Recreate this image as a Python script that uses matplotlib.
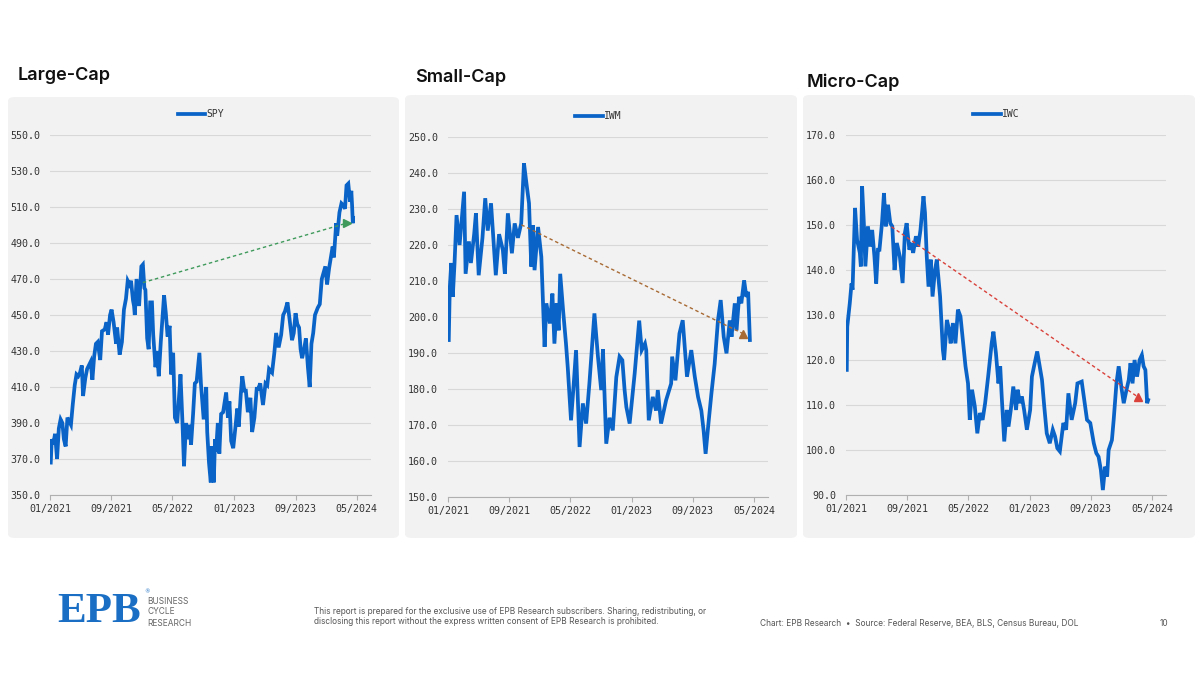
import numpy as np
import pandas as pd
import matplotlib.pyplot as plt
import matplotlib.dates as mdates
from matplotlib.patches import FancyBboxPatch

# --- data ---
titles = ['Large-Cap', 'Small-Cap', 'Micro-Cap']
tickers = ['SPY', 'IWM', 'IWC']

spy_dates = ['2021-01-04', '2021-01-08', '2021-01-14', '2021-01-21', '2021-01-29', '2021-02-05', '2021-02-12',
             '2021-02-19', '2021-02-25', '2021-03-04', '2021-03-11', '2021-03-18', '2021-03-25', '2021-04-01',
             '2021-04-09', '2021-04-16', '2021-04-23', '2021-04-30', '2021-05-07', '2021-05-12', '2021-05-21',
             '2021-05-28', '2021-06-04', '2021-06-11', '2021-06-18', '2021-06-25', '2021-07-02', '2021-07-09',
             '2021-07-19', '2021-07-26', '2021-08-06', '2021-08-13', '2021-08-19', '2021-08-27', '2021-09-02',
             '2021-09-10', '2021-09-20', '2021-09-24', '2021-10-04', '2021-10-13', '2021-10-21', '2021-10-29',
             '2021-11-05', '2021-11-12', '2021-11-18', '2021-11-26', '2021-11-30', '2021-12-03', '2021-12-10',
             '2021-12-20', '2021-12-29', '2022-01-04', '2022-01-10', '2022-01-14', '2022-01-21', '2022-01-27',
             '2022-02-02', '2022-02-09', '2022-02-14', '2022-02-23', '2022-03-01', '2022-03-08', '2022-03-16',
             '2022-03-29', '2022-04-05', '2022-04-12', '2022-04-20', '2022-04-26', '2022-05-04', '2022-05-11',
             '2022-05-20', '2022-05-31', '2022-06-02', '2022-06-10', '2022-06-16', '2022-06-24', '2022-07-01',
             '2022-07-08', '2022-07-14', '2022-07-22', '2022-07-29', '2022-08-05', '2022-08-16', '2022-08-22',
             '2022-08-26', '2022-09-02', '2022-09-12', '2022-09-16', '2022-09-23', '2022-09-30', '2022-10-04',
             '2022-10-12', '2022-10-17', '2022-10-21', '2022-10-28', '2022-11-03', '2022-11-10', '2022-11-18',
             '2022-11-30', '2022-12-07', '2022-12-13', '2022-12-20', '2022-12-28', '2023-01-06', '2023-01-13',
             '2023-01-19', '2023-01-27', '2023-02-02', '2023-02-10', '2023-02-16', '2023-02-24', '2023-03-06',
             '2023-03-13', '2023-03-22', '2023-03-31', '2023-04-06', '2023-04-14', '2023-04-25', '2023-05-05',
             '2023-05-12', '2023-05-19', '2023-05-31', '2023-06-09', '2023-06-16', '2023-06-26', '2023-07-06',
             '2023-07-14', '2023-07-21', '2023-07-31', '2023-08-08', '2023-08-18', '2023-08-25', '2023-09-01',
             '2023-09-08', '2023-09-15', '2023-09-21', '2023-09-27', '2023-10-06', '2023-10-12', '2023-10-20',
             '2023-10-27', '2023-11-03', '2023-11-10', '2023-11-17', '2023-11-28', '2023-12-06', '2023-12-14',
             '2023-12-22', '2023-12-28', '2024-01-04', '2024-01-12', '2024-01-19', '2024-01-26', '2024-01-31',
             '2024-02-09', '2024-02-13', '2024-02-22', '2024-03-01', '2024-03-08', '2024-03-15', '2024-03-21',
             '2024-03-28', '2024-04-04', '2024-04-09', '2024-04-12', '2024-04-15', '2024-04-16']
spy_values = [368, 381, 378, 384, 370, 387, 392, 390, 381, 377, 393, 391, 389, 400, 411, 417, 416, 418, 422, 405,
              415, 420, 422, 424, 414, 427, 434, 435, 425, 441, 442, 446, 439, 450, 453, 446, 434, 443, 428, 435,
              453, 459, 469, 467, 469, 458, 455, 450, 470, 455, 477, 478, 465, 464, 437, 431, 457, 457, 439, 421,
              430, 416, 435, 461, 451, 438, 444, 417, 429, 393, 390, 412, 417, 390, 366, 390, 381, 389, 378, 395,
              412, 413, 429, 412, 405, 392, 410, 385, 368, 357, 377, 357, 381, 374, 390, 373, 395, 396, 407, 393,
              402, 380, 376, 388, 398, 388, 406, 416, 408, 408, 396, 404, 385, 393, 409, 409, 412, 400, 412, 411,
              420, 418, 429, 440, 432, 439, 450, 452, 457, 448, 436, 440, 451, 445, 443, 431, 426, 432, 437, 421,
              410, 434, 440, 450, 454, 456, 470, 474, 477, 467, 476, 482, 488, 482, 501, 494, 507, 512, 511, 509,
              522, 523, 513, 519, 511, 501, 504]

iwm_dates = ['2021-01-04', '2021-01-08', '2021-01-14', '2021-01-20', '2021-01-27', '2021-02-04', '2021-02-16',
             '2021-03-06', '2021-03-12', '2021-03-25', '2021-04-02', '2021-04-15', '2021-04-22', '2021-05-03',
             '2021-05-18', '2021-05-29', '2021-06-08', '2021-06-21', '2021-07-10', '2021-07-23', '2021-08-07',
             '2021-08-15', '2021-08-27', '2021-09-12', '2021-09-23', '2021-10-06', '2021-10-19', '2021-10-30',
             '2021-11-09', '2021-11-19', '2021-11-28', '2021-12-05', '2021-12-11', '2021-12-25', '2022-01-07',
             '2022-01-20', '2022-01-27', '2022-02-10', '2022-02-20', '2022-02-28', '2022-03-09', '2022-03-17',
             '2022-03-23', '2022-04-04', '2022-04-15', '2022-04-22', '2022-05-05', '2022-05-14', '2022-05-25',
             '2022-06-08', '2022-06-21', '2022-07-04', '2022-07-17', '2022-08-06', '2022-08-20', '2022-09-02',
             '2022-09-09', '2022-09-22', '2022-10-05', '2022-10-18', '2022-11-01', '2022-11-14', '2022-11-25',
             '2022-12-04', '2022-12-11', '2022-12-24', '2023-01-13', '2023-01-31', '2023-02-10', '2023-02-23',
             '2023-02-28', '2023-03-10', '2023-03-26', '2023-04-08', '2023-04-15', '2023-04-28', '2023-05-18',
             '2023-06-07', '2023-06-11', '2023-06-24', '2023-07-10', '2023-07-23', '2023-08-09', '2023-08-26',
             '2023-09-09', '2023-09-22', '2023-10-05', '2023-10-14', '2023-10-22', '2023-11-01', '2023-11-14',
             '2023-11-27', '2023-12-10', '2023-12-21', '2024-01-02', '2024-01-13', '2024-01-26', '2024-02-02',
             '2024-02-15', '2024-02-22', '2024-03-03', '2024-03-12', '2024-03-23', '2024-04-01', '2024-04-08',
             '2024-04-15']
iwm_values = [193.6, 208, 215, 205.6, 215, 228.3, 220, 234.8, 212, 221, 215, 223, 228.8, 211.6, 222, 233, 224,
              231.6, 211.6, 223, 218.6, 212, 228.8, 217.7, 226, 222, 226, 242.7, 237, 231.6, 214, 225.5, 213, 225,
              216.7, 191.7, 203.8, 198.2, 206.5, 192.6, 203.8, 196.3, 212, 201.4, 192.6, 186, 171.3, 179.7, 190.8,
              163.9, 176, 170.4, 181.5, 201, 189, 179.7, 191, 164.8, 172, 168.5, 183.3, 189, 188, 179.7, 175, 170.4,
              184.3, 199, 190.8, 192.6, 190.8, 171.3, 177.8, 174, 179.7, 170.4, 176.9, 181.5, 189, 182.4, 195.4,
              199.1, 183.4, 190.8, 183.4, 177.8, 174, 168.5, 162, 169.5, 178.7, 187, 199, 204.7, 194.5, 189.9, 199,
              194.5, 203.8, 196.3, 205.6, 203.8, 210.2, 205.6, 207, 193.6]

iwc_dates = ['2021-01-04', '2021-01-06', '2021-01-16', '2021-01-23', '2021-01-27', '2021-02-06', '2021-02-14',
             '2021-02-25', '2021-03-01', '2021-03-06', '2021-03-13', '2021-03-19', '2021-03-29', '2021-04-08',
             '2021-04-15', '2021-04-24', '2021-05-01', '2021-05-08', '2021-05-14', '2021-05-24', '2021-06-01',
             '2021-06-08', '2021-06-17', '2021-06-26', '2021-07-04', '2021-07-13', '2021-07-22', '2021-08-03',
             '2021-08-14', '2021-08-23', '2021-08-30', '2021-09-10', '2021-09-19', '2021-09-25', '2021-10-06',
             '2021-10-15', '2021-10-24', '2021-11-05', '2021-11-11', '2021-11-18', '2021-11-25', '2021-12-04',
             '2021-12-11', '2021-12-21', '2021-12-28', '2022-01-10', '2022-01-21', '2022-01-26', '2022-02-06',
             '2022-02-15', '2022-02-21', '2022-03-02', '2022-03-12', '2022-03-22', '2022-04-01', '2022-04-12',
             '2022-04-21', '2022-05-01', '2022-05-08', '2022-05-17', '2022-05-28', '2022-06-07', '2022-06-17',
             '2022-06-28', '2022-07-08', '2022-07-20', '2022-08-03', '2022-08-10', '2022-08-20', '2022-08-30',
             '2022-09-06', '2022-09-12', '2022-09-22', '2022-10-02', '2022-10-09', '2022-10-18', '2022-10-28',
             '2022-11-08', '2022-11-14', '2022-11-24', '2022-12-01', '2022-12-10', '2022-12-21', '2023-01-03',
             '2023-01-10', '2023-01-21', '2023-01-31', '2023-02-10', '2023-02-19', '2023-02-28', '2023-03-10',
             '2023-03-22', '2023-04-03', '2023-04-12', '2023-04-21', '2023-05-01', '2023-05-15', '2023-05-26',
             '2023-06-04', '2023-06-17', '2023-07-01', '2023-07-10', '2023-07-27', '2023-08-06', '2023-08-17',
             '2023-08-30', '2023-09-13', '2023-09-23', '2023-10-02', '2023-10-11', '2023-10-19', '2023-10-28',
             '2023-11-05', '2023-11-11', '2023-11-24', '2023-12-01', '2023-12-12', '2023-12-21', '2024-01-02',
             '2024-01-10', '2024-01-21', '2024-01-30', '2024-02-06', '2024-02-14', '2024-02-22', '2024-03-03',
             '2024-03-13', '2024-03-22', '2024-03-29', '2024-04-05', '2024-04-12', '2024-04-16']
iwc_values = [117.8, 127.4, 132.6, 137, 135.6, 153.8, 146.7, 143.8, 140.8, 158.6, 150.4, 140.8, 149.7, 145.2,
              148.9, 143, 137, 144.5, 144.5, 150.4, 157.1, 149.7, 154.5, 150.4, 149.7, 140, 146, 143, 137.1, 148.2,
              150.4, 144.5, 146, 143.8, 147.5, 145.2, 148.9, 156.4, 152.7, 143, 136.3, 142.3, 134.1, 140.1, 142.3,
              134.1, 122.3, 120, 128.9, 126.7, 123.7, 128.2, 123.7, 131.2, 129.7, 123.7, 118.6, 114.8, 106.7, 113.4,
              109.7, 103.7, 108.2, 106.7, 110.4, 116.3, 123.7, 126.3, 121.5, 114.8, 118.6, 111.9, 101.9, 108.9,
              105.2, 108.9, 114.1, 108.9, 113.4, 110.4, 111.9, 108.9, 104.5, 108.9, 116.3, 119.3, 121.9, 118.6,
              115.6, 109.7, 103.7, 101.5, 104.5, 103, 100.4, 99.7, 106, 104.5, 112.6, 106.7, 110.4, 114.8, 115.2,
              111.1, 106.7, 106, 101.5, 99.3, 98.5, 95.6, 91.1, 96.3, 94.1, 100, 102.2, 106.7, 114.8, 118.6, 113.4,
              110.4, 113.4, 115.6, 119.3, 114.8, 120, 116.3, 120, 121.1, 118.6, 117.8, 110.4, 111.1]

y_ranges = [(350, 550, 20), (150, 250, 10), (90, 170, 10)]

# dashed trend arrows: (start date, start value, end date, end value)
arrow_start = [('2022-01-04', 468), ('2021-10-20', 225.6), ('2021-07-01', 149.6)]
arrow_end = [('2024-03-21', 501), ('2024-03-18', 195.4), ('2024-03-06', 111.8)]
arrow_colors = ['#3f9a5c', '#a86a34', '#d9413a']
arrow_heads = ['>', '^', '^']

xtick_dates = ['2021-01-01', '2021-09-01', '2022-05-01', '2023-01-01', '2023-09-01', '2024-05-01']

series = [(spy_dates, spy_values), (iwm_dates, iwm_values), (iwc_dates, iwc_values)]

LINE = '#0a64c8'
BG = '#f2f2f2'
MONO = 'DejaVu Sans Mono'
SANS = 'Inter'

fig = plt.figure(figsize=(12, 6.74), dpi=100)
W, H = 1200, 674

# panel boxes (pixel boxes: left, top, width, height)
boxes = [(8, 97, 391, 441), (405, 95, 392, 443), (803, 95, 392, 443)]
axes_px = [(50, 495, 321), (448, 497, 320), (846, 495, 320)]
title_px = [(18, 76), (415, 77), (807, 82)]
legend_y = [1.02, 1.02, 1.02]

for i in range(3):
    bx, by, bw, bh = boxes[i]
    fig.add_artist(FancyBboxPatch((bx / W, 1 - (by + bh) / H), bw / W, bh / H,
                                  boxstyle='round,pad=0,rounding_size=0.006',
                                  transform=fig.transFigure, fc=BG, ec='none', zorder=0))

    tx, ty = title_px[i]
    fig.text(tx / W, 1 - ty / H, titles[i], fontsize=13, fontfamily=SANS, fontweight='semibold',
             color='#111111', va='center', ha='left')

    ax_l, ax_b, ax_w = axes_px[i]
    ax = fig.add_axes([ax_l / W, 1 - ax_b / H, ax_w / W, 360 / H])
    ax.set_facecolor(BG)
    ax.patch.set_alpha(0)

    d, v = series[i]
    ax.plot(pd.to_datetime(d), v, color=LINE, lw=2.7, label=tickers[i], zorder=3,
            solid_joinstyle='miter')

    # trend arrow
    s_d, s_v = arrow_start[i]
    e_d, e_v = arrow_end[i]
    ax.plot(pd.to_datetime([s_d, e_d]), [s_v, e_v], color=arrow_colors[i], lw=1.0,
            dashes=(2.5, 2), zorder=4)
    ax.plot(pd.to_datetime([e_d]), [e_v], marker=arrow_heads[i], ms=6, color=arrow_colors[i],
            ls='none', zorder=5)

    lo, hi, step = y_ranges[i]
    ax.set_ylim(lo, hi)
    ax.set_yticks(np.arange(lo, hi + step / 2, step))
    ax.yaxis.set_major_formatter(plt.FuncFormatter(lambda y, p: f'{y:.1f}'))
    ax.set_xlim(pd.Timestamp('2021-01-01'), pd.Timestamp('2024-06-26'))
    ax.set_xticks(pd.to_datetime(xtick_dates))
    ax.xaxis.set_major_formatter(mdates.DateFormatter('%m/%Y'))

    ax.grid(axis='y', color='#d8d8d8', lw=0.8)
    ax.set_axisbelow(True)
    for sp in ['top', 'right', 'left']:
        ax.spines[sp].set_visible(False)
    ax.spines['bottom'].set_color('#b0b0b0')
    ax.spines['bottom'].set_linewidth(0.8)
    ax.tick_params(axis='y', length=0, pad=7, labelsize=7.2, labelcolor='#333333')
    ax.tick_params(axis='x', length=3.5, width=0.8, color='#b0b0b0', pad=3, labelsize=7.2,
                   labelcolor='#333333')
    for lab in ax.get_xticklabels() + ax.get_yticklabels():
        lab.set_fontfamily(MONO)

    leg = ax.legend(loc='lower center', bbox_to_anchor=(0.47, legend_y[i]), frameon=False,
                    handlelength=2.8, handletextpad=0.1, prop={'family': MONO, 'size': 7})
    for t in leg.get_texts():
        t.set_color('#333333')

# footer
fig.text(57 / W, 1 - 612 / H, 'EPB', fontsize=31, fontfamily='Liberation Serif', fontweight='bold',
         color='#1a6fc4', va='center', ha='left')
fig.text(144 / W, 1 - 592 / H, '®', fontsize=4, color='#1a6fc4', va='center', ha='left')
for k, word in enumerate(['BUSINESS', 'CYCLE', 'RESEARCH']):
    fig.text(147 / W, 1 - (601 + 11 * k) / H, word, fontsize=6, fontfamily=SANS, color='#666666',
             va='center', ha='left')
fig.text(314 / W, 1 - 611 / H,
         'This report is prepared for the exclusive use of EPB Research subscribers. Sharing, redistributing, or',
         fontsize=6.0, fontfamily=SANS, color='#555555', va='center', ha='left')
fig.text(314 / W, 1 - 622 / H,
         'disclosing this report without the express written consent of EPB Research is prohibited.',
         fontsize=6.0, fontfamily=SANS, color='#555555', va='center', ha='left')
fig.text(760 / W, 1 - 623 / H,
         'Chart: EPB Research  \u2022  Source: Federal Reserve, BEA, BLS, Census Bureau, DOL',
         fontsize=6.0, fontfamily=SANS, color='#555555', va='center', ha='left')
fig.text(1164 / W, 1 - 623 / H, '10', fontsize=6, fontfamily=SANS, color='#555555', va='center', ha='center')

fig.savefig('out.png', dpi=100, facecolor='white')
